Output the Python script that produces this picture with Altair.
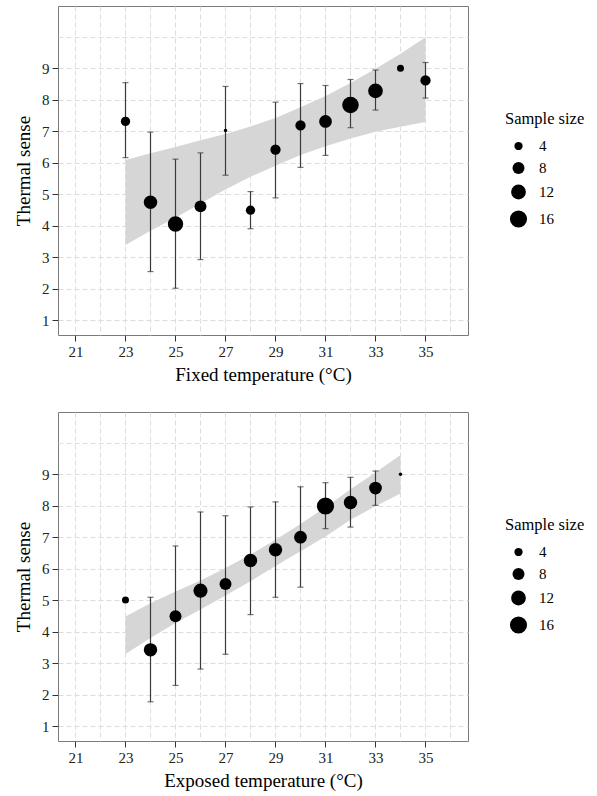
import altair as alt
import pandas as pd

# ---- Top panel: fixed temperature ----
temp_fixed = [23, 24, 25, 26, 27, 28, 29, 30, 31, 32, 33, 34, 35]
mean_fixed = [7.31, 4.74, 4.05, 4.61, 7.02, 4.49, 6.41, 7.18, 7.31, 7.83, 8.28, 9.00, 8.61]
low_fixed = [6.16, 2.54, 2.01, 2.92, 5.60, 3.90, 4.88, 5.85, 6.23, 7.11, 7.67, None, 8.05]
high_fixed = [8.54, 6.97, 6.11, 6.31, 8.42, 5.08, 7.92, 8.51, 8.45, 8.64, 8.94, None, 9.18]
n_fixed = [5, 10, 13, 8, 1, 5, 6, 6, 9, 15, 12, 3, 6]
band_low_fixed = [3.38, 3.84, 4.25, 4.70, 5.15, 5.55, 5.90, 6.24, 6.52, 6.77, 6.98, 7.14, 7.29]
band_high_fixed = [6.08, 6.30, 6.50, 6.71, 6.91, 7.15, 7.42, 7.76, 8.12, 8.53, 8.98, 9.46, 9.98]

# ---- Bottom panel: exposed temperature ----
temp_exp = [23, 24, 25, 26, 27, 28, 29, 30, 31, 32, 33, 34]
mean_exp = [5.00, 3.42, 4.49, 5.30, 5.51, 6.26, 6.60, 7.00, 7.99, 8.10, 8.56, 9.00]
low_exp = [None, 1.77, 2.29, 2.81, 3.28, 4.54, 5.09, 5.41, 7.27, 7.32, 8.01, None]
high_exp = [None, 5.09, 6.72, 7.80, 7.68, 7.96, 8.12, 8.60, 8.73, 8.90, 9.10, None]
n_exp = [3, 10, 8, 11, 8, 10, 10, 9, 16, 10, 9, 1]
band_low_exp = [3.29, 3.80, 4.27, 4.70, 5.15, 5.60, 6.08, 6.55, 7.02, 7.55, 7.98, 8.39]
band_high_exp = [4.48, 4.90, 5.27, 5.62, 6.02, 6.45, 6.92, 7.42, 7.95, 8.52, 9.05, 9.61]

x_grid = list(range(21, 37))
y_grid = [v / 2 for v in range(2, 22)]
legend_values = [4, 8, 12, 16]

PLOT_W, PLOT_H = 410, 329
SERIF = "Liberation Serif"


def panel(temps, means, lows, highs, ns, blo, bhi, xtitle):
    pts = pd.DataFrame({"t": temps, "m": means, "lo": lows, "hi": highs, "n": ns})
    band = pd.DataFrame({"t": temps, "blo": blo, "bhi": bhi})

    xscale = alt.Scale(domain=[20.3, 36.7], nice=False, zero=False)
    yscale = alt.Scale(domain=[0.525, 10.975], nice=False, zero=False)
    xaxis = alt.Axis(
        title=xtitle,
        values=x_grid,
        format="d",
        labelExpr="datum.value % 2 == 1 ? datum.label : ''",
        tickOpacity={"condition": {"test": "datum.value % 2 == 1", "value": 1}, "value": 0},
        titlePadding=6,
    )
    yaxis = alt.Axis(
        title="Thermal sense",
        values=y_grid,
        format="d",
        labelExpr="(datum.value % 1 == 0 && datum.value <= 9) ? datum.label : ''",
        tickOpacity={"condition": {"test": "datum.value % 1 == 0 && datum.value <= 9", "value": 1}, "value": 0},
        titlePadding=8,
    )

    def X():
        return alt.X("t:Q", scale=xscale, axis=xaxis)

    ribbon = alt.Chart(band).mark_area(color="#d6d6d6", opacity=1).encode(
        x=X(),
        y=alt.Y("blo:Q", scale=yscale, axis=yaxis),
        y2="bhi:Q",
    )
    bars = alt.Chart(pts).mark_rule(color="#3a3a3a", strokeWidth=1.2).encode(
        x=X(),
        y=alt.Y("lo:Q", scale=yscale, axis=yaxis),
        y2="hi:Q",
    )
    cap_lo = alt.Chart(pts).mark_tick(color="#3a3a3a", orient="horizontal", size=6, thickness=1.2).encode(
        x=X(),
        y=alt.Y("lo:Q", scale=yscale, axis=yaxis),
    )
    cap_hi = alt.Chart(pts).mark_tick(color="#3a3a3a", orient="horizontal", size=6, thickness=1.2).encode(
        x=X(),
        y=alt.Y("hi:Q", scale=yscale, axis=yaxis),
    )
    dots = alt.Chart(pts).mark_circle(color="black", opacity=1).encode(
        x=X(),
        y=alt.Y("m:Q", scale=yscale, axis=yaxis),
        size=alt.Size(
            "n:Q",
            scale=alt.Scale(domain=[4, 16], range=[68, 293]),
            legend=alt.Legend(
                title="Sample size",
                values=legend_values,
                orient="none",
                legendX=447,
                legendY=105,
            ),
        ),
    )
    return alt.layer(ribbon, bars, cap_lo, cap_hi, dots).properties(width=PLOT_W, height=PLOT_H)


top = panel(temp_fixed, mean_fixed, low_fixed, high_fixed, n_fixed,
            band_low_fixed, band_high_fixed, "Fixed temperature (°C)")
bottom = panel(temp_exp, mean_exp, low_exp, high_exp, n_exp,
               band_low_exp, band_high_exp, "Exposed temperature (°C)")

chart = (
    alt.vconcat(top, bottom, spacing=26)
    .resolve_scale(size="independent")
    .configure(font=SERIF, padding={"left": 14, "top": 5, "right": 0, "bottom": 0})
    .configure_view(stroke="#7a7a7a", strokeWidth=1)
    .configure_axis(
        domain=False,
        grid=True,
        gridColor="#dddddd",
        gridDash=[5, 3],
        gridWidth=1,
        tickColor="#333333",
        tickSize=6,
        tickWidth=1,
        labelFont=SERIF,
        labelFontSize=15,
        labelColor="#222222",
        labelPadding=3,
        titleFont=SERIF,
        titleFontSize=19,
        titleFontWeight="normal",
        titleColor="#000000",
    )
    .configure_legend(
        titleFont=SERIF,
        labelFont=SERIF,
        titleFontSize=16.5,
        titleFontWeight="normal",
        titleColor="#000000",
        labelFontSize=15,
        labelColor="#000000",
        labelOffset=11,
        symbolOffset=4,
        rowPadding=4,
        padding=0,
        titlePadding=11,
    )
)

chart.save("out.html", embed_options={"renderer": "svg", "actions": False})
